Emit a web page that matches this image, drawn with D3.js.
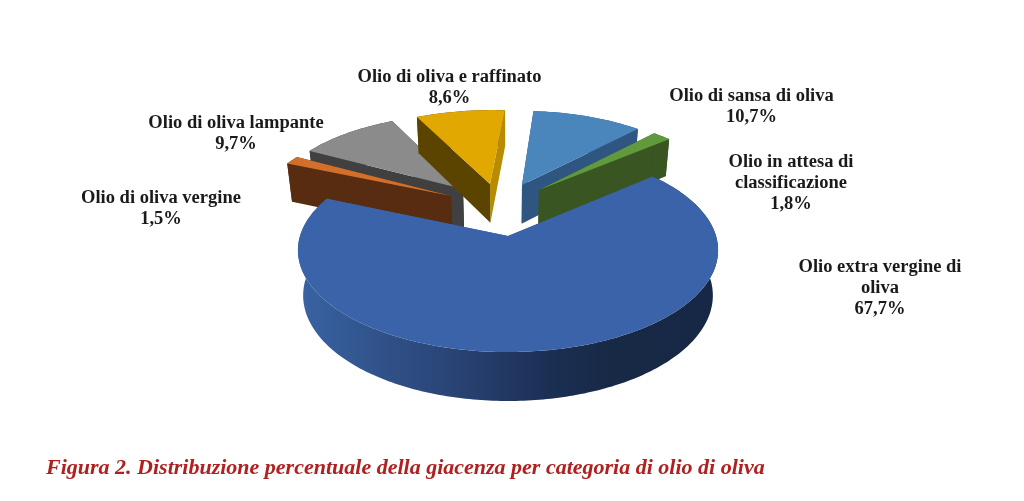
<!DOCTYPE html>
<html lang="it">
<head>
<meta charset="utf-8">
<script src="https://cdnjs.cloudflare.com/ajax/libs/d3/7.8.5/d3.min.js"></script>
<style>
html,body{margin:0;padding:0;background:#fff;}
svg{display:block;filter:blur(0.5px);}
text{font-family:"Liberation Serif","Times New Roman",serif;font-weight:bold;fill:#1a1a1a;}
</style>
</head>
<body>
<svg id="chart" width="1024" height="501"></svg>
<script>
// ---- data ----
const categories = ["Olio extra vergine di oliva","Olio di oliva vergine","Olio di oliva lampante","Olio di oliva e raffinato","Olio di sansa di oliva","Olio in attesa di classificazione"];
const values = [67.7,1.5,9.7,8.6,10.7,1.8];
const labelLines = [["Olio extra vergine di","oliva"],["Olio di oliva vergine"],["Olio di oliva lampante"],["Olio di oliva e raffinato"],["Olio di sansa di oliva"],["Olio in attesa di","classificazione"]];
const caption = "Figura 2. Distribuzione percentuale della giacenza per categoria di olio di oliva";

// ---- styling and layout ----
const topColors  = ["#3a63a9","#d2702a","#8b8b8b","#e0a800","#4a86bb","#619a3c"];
const startWall  = ["#3a63a9","#582c10","#404040","#5a4400","#2e5680","#385522"];
const endWall    = ["#3a63a9","#582c10","#404040","#b78c00","#2e5680","#385522"];
const outerWall  = ["url(#blueWall)","#582c10","#404040","#5a4400","#2e5680","#385522"];
const offsets    = [[0,0],[-0.29,-0.425],[-0.2315,-0.504],[-0.0934,-0.562],[0.0725,-0.551],[0.159,-0.493]];
const radii      = [1,0.97,0.97,0.97,0.97,0.97];
const heights    = [46.2,41.5,41.5,41.5,41.5,41.5];
const drawOrder  = [2,1,3,4,5,0];
const labelPos   = [[880,272],[161,203],[236,128],[449.5,82],[751.5,101],[791,167]];
const labelGap   = 21;
const firstAngle = 49.5*Math.PI/180;

const cx=508, cy=236, rx=208, ry=99.8, persp=0.14, lift=0.025;
const xScale=d3.scaleLinear().domain([-1,1]).range([cx-rx,cx+rx]);
const yScale=d3.scaleLinear().domain([-1,1]).range([cy-ry,cy+ry]);

// perspective projection of a point on the pie disc; h=0 top face, h>0 bottom face
function project(u,v,h){
  const w=1-persp*v+(h?lift:0);
  return [cx+(xScale(u)-cx)/w, cy+(yScale(v)-cy+h)/w];
}

const svg=d3.select("#chart");
const defs=svg.append("defs");
const grad=defs.append("linearGradient").attr("id","blueWall").attr("gradientUnits","userSpaceOnUse")
  .attr("x1",298).attr("x2",718).attr("y1",0).attr("y2",0);
[[0,"#3a63a4"],[0.15,"#32568f"],[0.36,"#2a4476"],[0.6,"#1b2f54"],[0.75,"#172945"],[1,"#162845"]]
  .forEach(s=>grad.append("stop").attr("offset",s[0]).attr("stop-color",s[1]));

const arcs=d3.pie().sort(null).startAngle(firstAngle).endAngle(firstAngle+2*Math.PI)(values);
const line=d3.line();

function rim(i,h){
  const a=arcs[i],n=Math.max(4,Math.ceil((a.endAngle-a.startAngle)*60));
  return d3.range(n+1).map(k=>{
    const t=a.startAngle+(a.endAngle-a.startAngle)*k/n;
    return project(offsets[i][0]+radii[i]*Math.sin(t),offsets[i][1]-radii[i]*Math.cos(t),h);
  });
}
function apex(i,h){return project(offsets[i][0],offsets[i][1],h);}

const g=svg.append("g");
drawOrder.forEach(i=>{
  const h=heights[i],T=rim(i,0),B=rim(i,h);
  // outer curved wall
  g.append("path").attr("d",line(T.concat(B.slice().reverse()))+"Z").attr("fill",outerWall[i]);
  // radial cut faces
  g.append("path").attr("d",line([apex(i,0),T[T.length-1],B[B.length-1],apex(i,h)])+"Z").attr("fill",endWall[i]);
  g.append("path").attr("d",line([apex(i,0),T[0],B[0],apex(i,h)])+"Z").attr("fill",startWall[i]);
  // top face
  g.append("path").attr("d",line([apex(i,0)].concat(T))+"Z").attr("fill",topColors[i]);
});

// labels
const fmt=v=>v.toFixed(1).replace(".",",")+"%";
categories.forEach((c,i)=>{
  const lines=labelLines[i].concat([fmt(values[i])]);
  svg.append("text").attr("text-anchor","middle").attr("font-size",18.5)
    .selectAll("tspan").data(lines).join("tspan")
    .attr("x",labelPos[i][0]).attr("y",(d,k)=>labelPos[i][1]+k*labelGap).text(d=>d);
});

svg.append("text").attr("x",46).attr("y",474).attr("font-size",22)
  .attr("font-style","italic").style("fill","#b0201f").text(caption);
</script>
</body>
</html>
